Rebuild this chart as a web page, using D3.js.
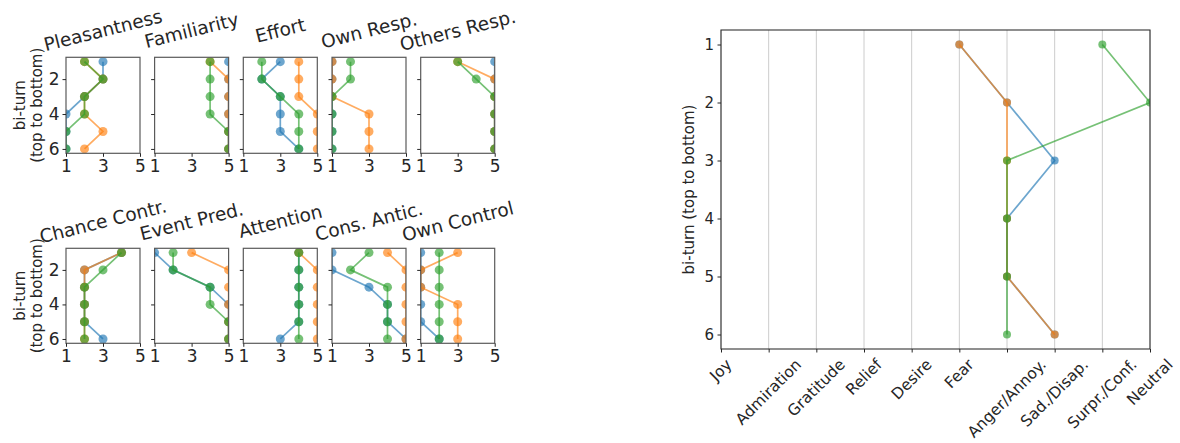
<!DOCTYPE html>
<html><head><meta charset="utf-8">
<script src="https://cdn.jsdelivr.net/npm/d3@7"></script>
<style>
body{margin:0;background:#fff}
text{font-family:"DejaVu Sans",sans-serif;fill:#262626}
</style></head>
<body><svg id="c" width="1180" height="443"></svg>
<script>
// ---------- DATA ----------
const turns = [1, 2, 3, 4, 5, 6];
const dimensions = ["Pleasantness","Familiarity","Effort","Own Resp.","Others Resp.",
                    "Chance Contr.","Event Pred.","Attention","Cons. Antic.","Own Control"];
const blueAppraisal = [[3,3,2,1,1,1],[5,5,5,5,5,5],[3,2,3,3,3,4],[1,1,1,1,1,1],[5,5,5,5,5,5],
                       [4,2,2,2,2,3],[1,2,4,5,5,5],[4,4,4,4,4,3],[1,1,3,4,4,5],[1,1,1,1,1,2]];
const orangeAppraisal = [[2,3,2,2,3,2],[4,5,5,5,5,5],[4,4,4,5,5,5],[1,1,1,3,3,3],[3,5,5,5,5,5],
                         [4,2,2,2,2,2],[3,5,5,5,5,5],[4,5,5,5,5,5],[4,5,5,5,5,5],[3,1,1,3,3,3]];
const greenAppraisal = [[2,3,2,2,1,1],[4,4,4,4,5,5],[2,2,3,4,4,4],[2,2,1,1,1,1],[3,4,5,5,5,5],
                        [4,3,2,2,2,2],[2,2,4,4,5,5],[4,4,4,4,4,4],[3,2,4,4,4,4],[2,2,2,2,2,2]];
const emotions = ["Joy","Admiration","Gratitude","Relief","Desire","Fear",
                  "Anger/Annoy.","Sad./Disap.","Surpr./Conf.","Neutral"];
const blueEmotion   = ["Fear","Anger/Annoy.","Sad./Disap.","Anger/Annoy.","Anger/Annoy.","Sad./Disap."];
const orangeEmotion = ["Fear","Anger/Annoy.","Anger/Annoy.","Anger/Annoy.","Anger/Annoy.","Sad./Disap."];
const greenEmotion  = ["Surpr./Conf.","Neutral","Anger/Annoy.","Anger/Annoy.","Anger/Annoy.","Anger/Annoy."];
const scaleTicks = [1, 3, 5];
const smallTurnTicks = [2, 4, 6];
const colors = ["#1f77b4", "#ff7f0e", "#2ca02c"];

// ---------- LAYOUT ----------
const svg = d3.select("#c");
const ALPHA = 0.65;
const colX = [66, 154.6, 243.3, 332, 420.7];
const panelW = 74;
const rows = [{top: 57.3, bottom: 153.3}, {top: 248.3, bottom: 343.3}];
const defs = svg.append("defs");
const FONT = '"DejaVu Sans",sans-serif';

function drawSeries(g, pts, color, r, clipId) {
  const gg = g.append("g").attr("clip-path", `url(#${clipId})`);
  gg.append("path").datum(pts)
    .attr("d", d3.line().x(d => d[0]).y(d => d[1]))
    .attr("fill", "none").attr("stroke", color).attr("stroke-width", 1.7)
    .attr("stroke-opacity", ALPHA);
  gg.selectAll("circle").data(pts).join("circle")
    .attr("cx", d => d[0]).attr("cy", d => d[1]).attr("r", r)
    .attr("fill", color).attr("fill-opacity", ALPHA);
}

dimensions.forEach((dim, i) => {
  const row = rows[Math.floor(i / 5)];
  const col = i % 5;
  const x0 = colX[col];
  const x = d3.scaleLinear().domain([1, 5]).range([x0, x0 + panelW]);
  const y = d3.scaleLinear().domain([0.75, 6.25]).range([row.top, row.bottom]);
  const g = svg.append("g");
  const clipId = "clip" + i;
  defs.append("clipPath").attr("id", clipId).append("rect")
    .attr("x", x0).attr("y", row.top).attr("width", panelW).attr("height", row.bottom - row.top);

  [blueAppraisal, orangeAppraisal, greenAppraisal].forEach((s, k) => {
    const pts = turns.map((t, j) => [x(s[i][j]), y(t)]);
    drawSeries(g, pts, colors[k], 4.5, clipId);
  });

  g.append("rect").attr("x", x0).attr("y", row.top).attr("width", panelW)
    .attr("height", row.bottom - row.top).attr("fill", "none")
    .attr("stroke", "#5a5a5a").attr("stroke-width", 1.2);

  const xa = g.append("g").attr("transform", `translate(0,${row.bottom})`)
    .call(d3.axisBottom(x).tickValues(scaleTicks).tickSize(3.5).tickPadding(3.5).tickFormat(d3.format("d")));
  xa.select(".domain").remove();
  xa.selectAll("text").attr("font-size", 17).style("font-family", FONT).attr("fill", "#262626");
  xa.selectAll("line").attr("stroke", "#262626");

  const ya = g.append("g").attr("transform", `translate(${x0},0)`)
    .call(d3.axisLeft(y).tickValues(smallTurnTicks).tickSize(3.5).tickPadding(3)
      .tickFormat(col === 0 ? d3.format("d") : () => ""));
  ya.select(".domain").remove();
  ya.selectAll("text").attr("font-size", 17).style("font-family", FONT).attr("fill", "#262626");
  ya.selectAll("line").attr("stroke", "#262626");

  g.append("text").attr("font-size", 18.5).attr("text-anchor", "middle")
    .attr("dominant-baseline", "central")
    .attr("transform", `translate(${x0 + panelW / 2},${row.top - 27}) rotate(-14)`)
    .text(dim);

  if (col === 0) {
    const cy = (row.top + row.bottom) / 2;
    g.append("text").attr("font-size", 15).attr("text-anchor", "middle")
      .attr("transform", `translate(25,${cy}) rotate(-90)`).text("bi-turn");
    g.append("text").attr("font-size", 15).attr("text-anchor", "middle")
      .attr("transform", `translate(42,${cy}) rotate(-90)`).text("(top to bottom)");
  }
});

// ---------- RIGHT CHART ----------
const R = {left: 721, right: 1150, top: 30, bottom: 349};
const xr = d3.scalePoint().domain(emotions).range([R.left, R.right]).padding(0);
const yr = d3.scaleLinear().domain([0.75, 6.25]).range([R.top, R.bottom]);
const gr = svg.append("g");
defs.append("clipPath").attr("id", "clipR").append("rect")
  .attr("x", R.left).attr("y", R.top).attr("width", R.right - R.left).attr("height", R.bottom - R.top);

gr.append("g").selectAll("line").data(emotions).join("line")
  .attr("x1", d => xr(d)).attr("x2", d => xr(d)).attr("y1", R.top).attr("y2", R.bottom)
  .attr("stroke", "#cccccc").attr("stroke-width", 1);

[blueEmotion, orangeEmotion, greenEmotion].forEach((s, k) => {
  const pts = turns.map((t, j) => [xr(s[j]), yr(t)]);
  drawSeries(gr, pts, colors[k], 4, "clipR");
});

gr.append("rect").attr("x", R.left).attr("y", R.top).attr("width", R.right - R.left)
  .attr("height", R.bottom - R.top).attr("fill", "none").attr("stroke", "#333").attr("stroke-width", 1.1);

const yra = gr.append("g").attr("transform", `translate(${R.left},0)`)
  .call(d3.axisLeft(yr).tickValues(turns).tickSize(3.5).tickPadding(3.5).tickFormat(d3.format("d")));
yra.select(".domain").remove();
yra.selectAll("text").attr("font-size", 15).style("font-family", FONT).attr("fill", "#262626");
yra.selectAll("line").attr("stroke", "#262626");

const xra = gr.append("g").attr("transform", `translate(0,${R.bottom})`)
  .call(d3.axisBottom(xr).tickSize(3.5).tickFormat(""));
xra.select(".domain").remove();
xra.selectAll("line").attr("stroke", "#262626");

const fsX = 15.5;
emotions.forEach(e => {
  const t = gr.append("text").attr("font-size", fsX).attr("text-anchor", "middle")
    .attr("dominant-baseline", "central").text(e);
  const w = t.node().getComputedTextLength();
  const bh = (w + fsX * 1.1) / Math.SQRT2;
  t.attr("transform", `translate(${xr(e)},${R.bottom + 7 + bh / 2}) rotate(-45)`);
});

gr.append("text").attr("font-size", 15).attr("text-anchor", "middle")
  .attr("transform", `translate(694,${(R.top + R.bottom) / 2}) rotate(-90)`)
  .text("bi-turn (top to bottom)");
</script>
</body></html>
